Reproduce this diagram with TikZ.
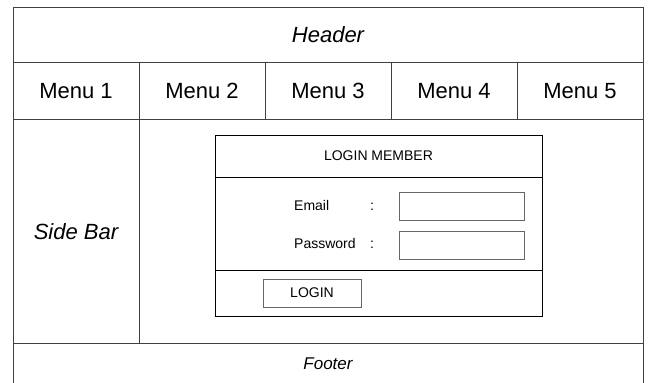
\documentclass[tikz,border=0pt]{standalone}
\usepackage{fontspec}
\setmainfont{Liberation Sans}
\usetikzlibrary{positioning}
\tikzset{frame/.style={rectangle,draw=black!75,line width=1pt,inner sep=0pt,outer sep=0pt,
    text height=16pt,text depth=0pt,font=\fontsize{22}{26}\selectfont},
  panel/.style={rectangle,draw=black,line width=1pt,inner sep=0pt,outer sep=0pt,minimum width=327pt},
  field/.style={rectangle,draw=black!60,line width=1pt,inner sep=0pt,minimum width=125pt,minimum height=28pt},
  small/.style={inner sep=0pt,font=\fontsize{14}{17}\selectfont}}

\begin{document}
\begin{tikzpicture}[x=1pt,y=-1pt]
  \path[use as bounding box] (0,0) rectangle (649,383);
  % page frame
  \node[frame,minimum width=630pt,minimum height=55pt] (header) at (328,34.5) {\itshape Header};
  \foreach \i in {1,...,5}{
    \node[frame,minimum width=126pt,minimum height=57pt] (menu\i) at (76+126*\i-126,90.5) {Menu \i};
  }
  \node[frame,minimum width=126pt,minimum height=224pt] (sidebar) at (76,231) {\itshape Side Bar};
  \node[frame,minimum width=504pt,minimum height=224pt] (content) at (391,231) {};
  \node[frame,draw=none,minimum width=630pt,minimum height=40pt,text height=12pt,font=\fontsize{17}{20}\selectfont] (footer) at (328,363) {\itshape Footer};
  \draw[black!75,line width=1pt] (footer.south west) -- (footer.north west) -- (footer.north east) -- (footer.south east);
  % login form
  \node[panel,minimum height=42pt,font=\fontsize{14}{17}\selectfont] (loginhead) at (378.5,156) {LOGIN MEMBER};
  \node[panel,minimum height=93pt,below=0pt of loginhead] (loginbody) {};
  \node[panel,minimum height=46pt,below=0pt of loginbody] (loginfoot) {};
  \node[small,anchor=base west] (email) at (294,210) {Email};
  \node[small,anchor=base west] (password) at (294,248) {Password};
  \node[small,anchor=base] (colon1) at (372,210) {:};
  \node[small,anchor=base] (colon2) at (372,248) {:};
  \node[field] (emailbox) at (461.5,206) {};
  \node[field] (passbox) at (461.5,245) {};
  \node[field,minimum width=98pt,font=\fontsize{14}{17}\selectfont] (loginbtn) at (312,293) {LOGIN};
\end{tikzpicture}
\end{document}
